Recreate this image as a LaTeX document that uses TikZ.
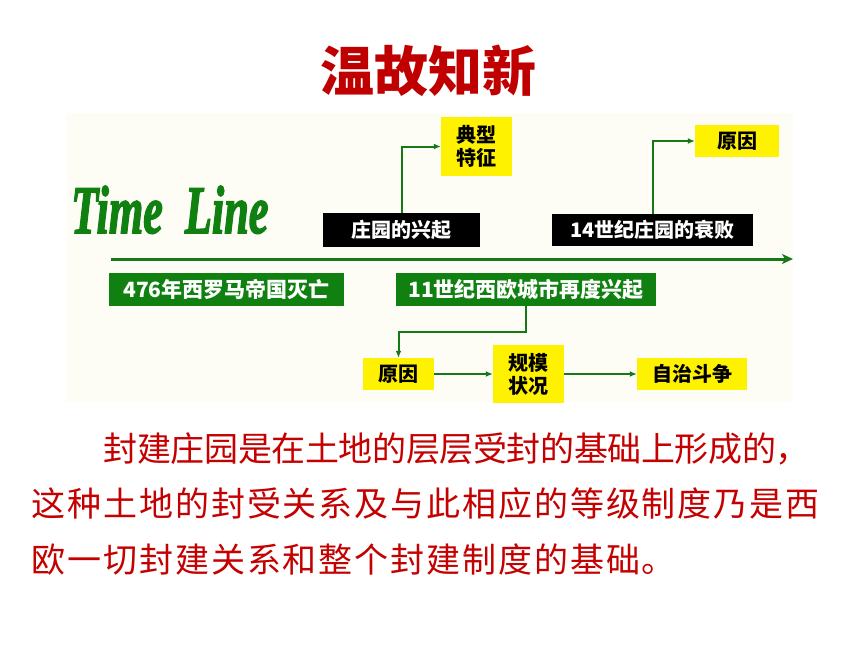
\documentclass[tikz,border=0pt]{standalone}
\usepackage{fontspec}
\usepackage{graphicx}
\usetikzlibrary{arrows.meta}
\newfontfamily\cjk{Noto Sans CJK SC}
\newfontfamily\timefont{Liberation Serif}[FakeBold=2.5]
\definecolor{tlgreen}{RGB}{16,128,16}
\definecolor{lgreen}{RGB}{22,120,22}
\definecolor{ttlred}{RGB}{192,0,0}
\definecolor{txtred}{RGB}{196,0,0}
\definecolor{cream}{RGB}{253,253,246}
\makeatletter
\newcommand\spreadline[2]{\@tfor\spr@c:=#2\do{\makebox[#1]{\spr@c}}}
\makeatother
\tikzset{
  boxfont/.style={font={\cjk\bfseries\fontsize{20}{23}\selectfont}},
  gbox/.style={fill=tlgreen, text=white, inner sep=0pt, minimum height=33pt, font={\cjk\bfseries\fontsize{21}{23}\selectfont}},
  kbox/.style={fill=black, text=white, inner sep=0pt, boxfont},
  ybox/.style={fill=yellow, text=black, inner sep=0pt, align=center, boxfont},
  conn/.style={draw=lgreen, line width=2pt, -{Latex[length=7pt,width=6pt]}},
  axis/.style={draw=lgreen, line width=3pt, -{Stealth[length=11pt,width=10pt,inset=3pt]}},
  bodytext/.style={anchor=base west, inner sep=0pt, text=txtred, font={\cjk\fontsize{34}{40}\selectfont}},
}
\begin{document}
\begin{tikzpicture}[x=1pt,y=-1pt]
\useasboundingbox (0,0) rectangle (860,645);
\fill[white] (0,0) rectangle (860,645);
\fill[cream] (66,113) rectangle (793,402);

% title
\node[anchor=base, inner sep=0pt, text=ttlred, font={\cjk\bfseries\fontsize{54}{54}\selectfont}] (title) at (428,91) {温故知新};

% Time Line
\node[anchor=base west, inner sep=0pt, text=tlgreen] (tl) at (71,233)
  {\scalebox{0.65}[1]{\timefont\bfseries\itshape\fontsize{68}{68}\selectfont Time\hspace{0.5em}Line}};

% boxes above axis
\node[ybox, minimum width=71pt, minimum height=59pt] (tx) at (476.5,146.5) {典型\\特征};
\node[ybox, minimum width=84pt, minimum height=32pt] (ry1) at (737,141) {原因};
\node[kbox, minimum width=157pt, minimum height=34pt] (zy) at (401.5,230) {庄园的兴起};
\node[kbox, minimum width=201pt, minimum height=32pt] (sj) at (652.5,230) {14世纪庄园的衰败};

% axis
\coordinate (ax0) at (111,259);
\coordinate (ax1) at (793,259);
\draw[axis] (ax0) -- (ax1);

% boxes below axis
\node[gbox, minimum width=235pt] (xl) at (226.5,289.5) {476年西罗马帝国灭亡};
\node[gbox, minimum width=260pt] (cs) at (526,289.5) {11世纪西欧城市再度兴起};
\node[ybox, minimum width=71pt, minimum height=32pt] (ry2) at (398.5,374) {原因};
\node[ybox, minimum width=71pt, minimum height=58pt] (gm) at (528.5,374) {规模\\状况};
\node[ybox, minimum width=110pt, minimum height=32pt] (zz) at (692,374) {自治斗争};

% connectors
\draw[conn] (zy.north) |- (tx.west);
\draw[conn] (sj.north) |- (ry1.west);
\draw[conn] (cs.south) -- ([yshift=-26pt]cs.south) -| (ry2.north);
\draw[conn] (ry2.east) -- (gm.west);
\draw[conn] (gm.east) -- (zz.west);

% body text
\node[bodytext] (l1) at (103.7,461) {\spreadline{33.6pt}{封建庄园是在土地的层层受封的基础上形成的，}};
\node[bodytext] (l2) at (30.5,516) {\spreadline{35.9pt}{这种土地的封受关系及与此相应的等级制度乃是西}};
\node[bodytext] (l3) at (30.5,572) {\spreadline{35.9pt}{欧一切封建关系和整个封建制度的基础。}};
\end{tikzpicture}
\end{document}
